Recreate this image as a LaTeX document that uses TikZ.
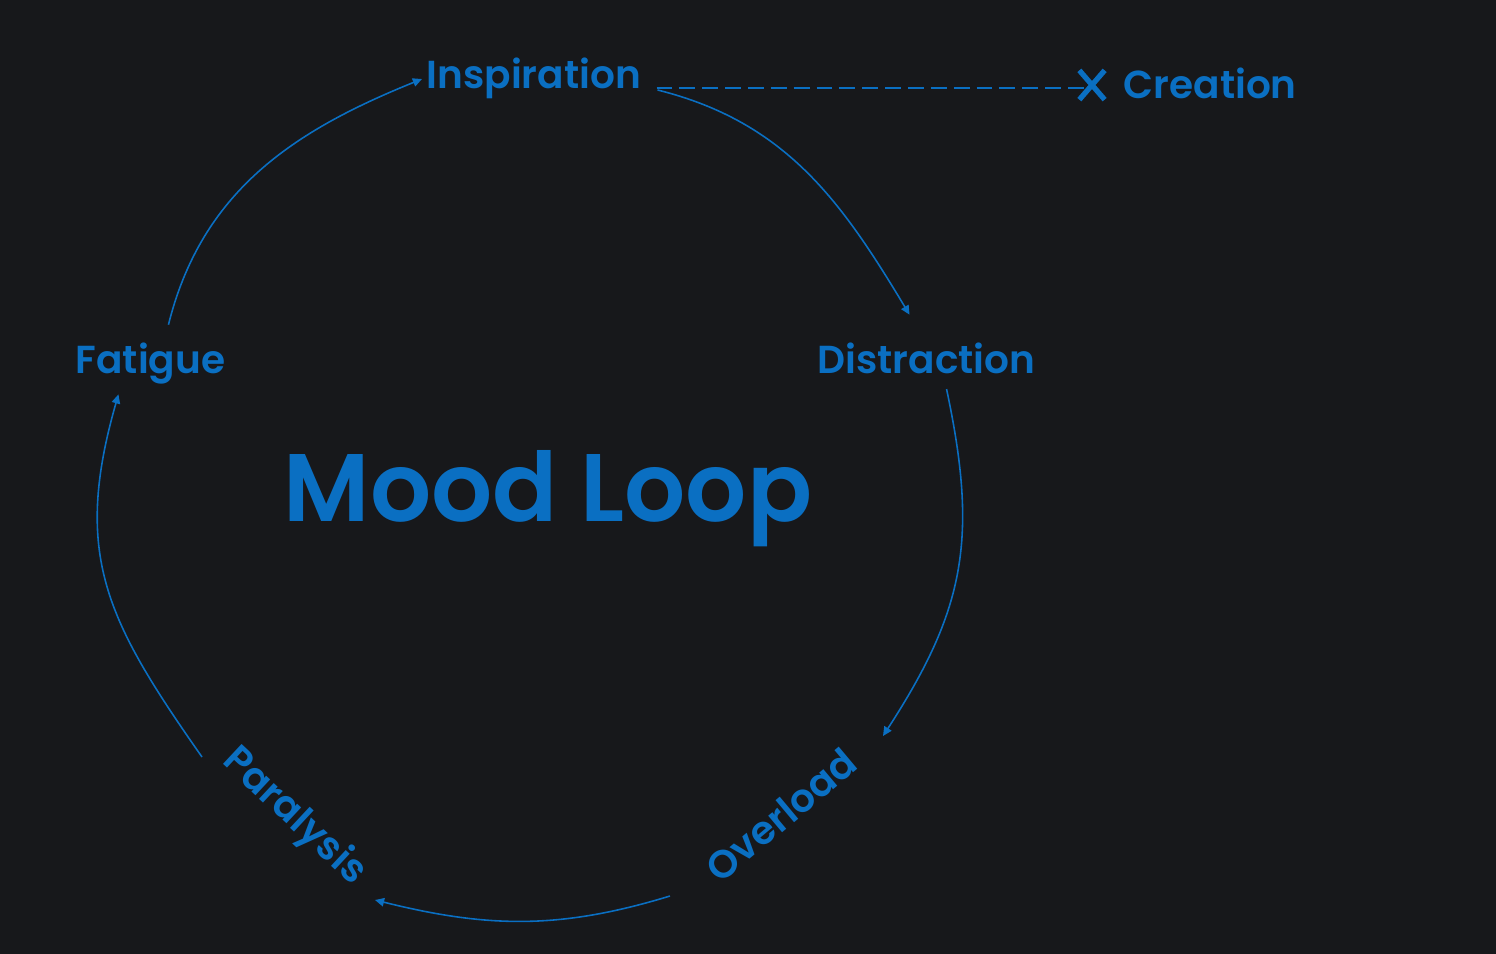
\documentclass[tikz,border=0pt]{standalone}
\usepackage{fontspec}
\setmainfont{Poppins}[UprightFont={* SemiBold}, BoldFont={* Bold}]
\usepackage{xcolor}
\usepackage{tikz}
\usetikzlibrary{arrows.meta,positioning,calc,shapes.misc}

\definecolor{loopblue}{HTML}{0A6FC2}
\definecolor{bgdark}{HTML}{17181B}

\begin{document}
\begin{tikzpicture}[
  x=0.01cm, y=0.01cm,
  lbl/.style={text=loopblue, font=\fontsize{11.1}{13}\selectfont,
              inner sep=0pt, anchor=base west},
  tilted/.style={text=loopblue, font=\fontsize{11.1}{13}\selectfont,
                 inner sep=0pt, anchor=center},
  title/.style={text=loopblue, font=\fontsize{27.3}{30}\selectfont,
                inner sep=0pt, anchor=base west},
  ar/.style={-{Triangle[length=2.6pt, width=2.4pt]}, draw=loopblue,
             line width=0.45pt},
  cut/.style={draw=loopblue, dash pattern=on 4.5pt off 2pt, line width=0.55pt},
  blockx/.style={cross out, draw=loopblue, line width=1.5pt, inner sep=0pt,
                 minimum width=0.2cm, minimum height=0.24cm}
]
\fill[bgdark] (0,0) rectangle (1496,-954);

\node[title] (mood) at (283,-521) {Mood Loop};

\node[lbl] (insp) at (426,-88) {Inspiration};
\node[lbl] (dist) at (817,-373) {Distraction};
\node[lbl] (fatigue) at (75,-373) {Fatigue};
\node[lbl] (creation) at (1123,-98) {Creation};
\node[tilted, rotate=40] (over) at (781,-815) {Overload};
\node[tilted, rotate=-43] (para) at (294,-817) {Paralysis};
\node[blockx] (block) at (1092,-85) {};

% the loop
\draw[ar] ($(fatigue.north)+(18,17)$) to[out=76, in=202]
  ($(insp.base west)+(-4,9)$);
\draw[ar] ($(insp.base east)+(16,-2)$) to[out=-14, in=121]
  ($(dist.north)+(-17,27)$);
\draw[ar] ($(dist.south)+(20,-15)$) to[out=-78, in=57, looseness=1.1]
  ($(over.center)+(102,79)$);
\draw[ar] ($(over.center)+(-111,-81)$) to[out=197, in=-14]
  ($(para.center)+(81,-83)$);
\draw[ar] ($(para.center)+(-92,60)$) to[out=125, in=254, looseness=1.15]
  ($(fatigue.south)+(-32,-10)$);

% broken path to creation
\draw[cut] ($(insp.base east)+(15,0)$) -- ($(block.center)+(0,-3)$);
\end{tikzpicture}
\end{document}
